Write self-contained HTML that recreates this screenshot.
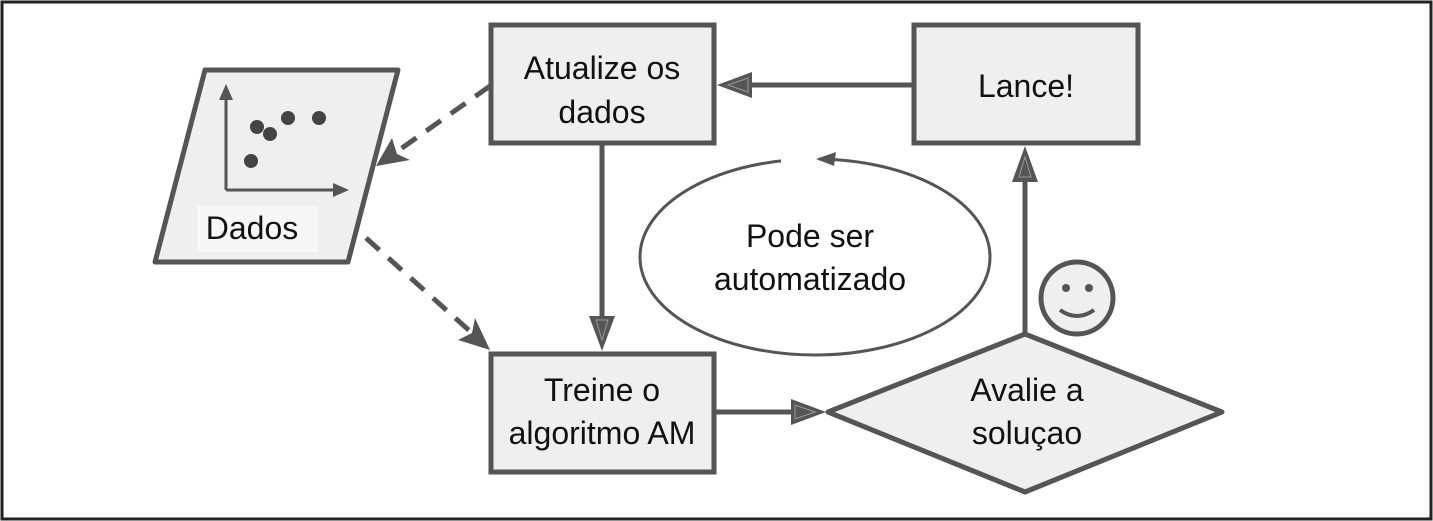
<!DOCTYPE html>
<html><head><meta charset="utf-8"><style>
html,body{margin:0;padding:0;background:#fff;}
svg{display:block;}
text{font-family:"Liberation Sans",sans-serif;font-size:32px;fill:#111;text-anchor:middle;}
</style></head><body>
<svg width="1433" height="521" viewBox="0 0 1433 521" xmlns="http://www.w3.org/2000/svg">
<rect x="2" y="2" width="1429" height="517" fill="#fff" stroke="#222" stroke-width="3"/>
<!-- parallelogram -->
<polygon points="205,70 398,70 348,262 155,262" fill="#efefef" stroke="#555" stroke-width="5" stroke-linejoin="round"/>
<line x1="226" y1="190" x2="226" y2="98" stroke="#555" stroke-width="3"/>
<polygon points="219,100 226,84 233,100" fill="#555"/>
<line x1="226" y1="190" x2="335" y2="190" stroke="#555" stroke-width="3"/>
<polygon points="333,183 349,190 333,197" fill="#555"/>
<circle cx="257" cy="127" r="7" fill="#444"/><circle cx="270" cy="134" r="7" fill="#444"/>
<circle cx="288" cy="118" r="7" fill="#444"/><circle cx="319" cy="118" r="7" fill="#444"/>
<circle cx="251" cy="161" r="7" fill="#444"/>
<rect x="197" y="206" width="121" height="46" fill="#f7f7f7"/>
<text x="252" y="239">Dados</text>
<!-- ellipse -->
<ellipse cx="815" cy="257" rx="175" ry="98" fill="#fff" stroke="#555" stroke-width="3"/>
<rect x="781" y="150" width="38" height="20" fill="#fff"/>
<polygon points="816,159 836,152 834,166" fill="#555"/>
<text x="810" y="247">Pode ser</text><text x="810" y="290">automatizado</text>
<!-- boxes -->
<rect x="491" y="25" width="223" height="118" fill="#efefef" stroke="#555" stroke-width="5"/>
<text x="602" y="79">Atualize os</text><text x="602" y="123">dados</text>
<rect x="914" y="25" width="224" height="118" fill="#efefef" stroke="#555" stroke-width="5"/>
<text x="1026" y="97">Lance!</text>
<rect x="491" y="354" width="223" height="118" fill="#efefef" stroke="#555" stroke-width="5"/>
<text x="602" y="401">Treine o</text><text x="602" y="444">algoritmo AM</text>
<!-- diamond -->
<polygon points="1025,334 1222,412 1025,492 828,412" fill="#efefef" stroke="#555" stroke-width="5" stroke-linejoin="round"/>
<text x="1027" y="401">Avalie a</text><text x="1027" y="444">soluçao</text>
<!-- smiley -->
<circle cx="1077" cy="298" r="36" fill="#efefef" stroke="#555" stroke-width="5"/>
<circle cx="1066" cy="288" r="4" fill="#555"/><circle cx="1089" cy="288" r="4" fill="#555"/>
<path d="M1060,310 Q1077,322 1094,310" fill="none" stroke="#555" stroke-width="4"/>
<!-- connectors -->
<line x1="914" y1="85" x2="745" y2="85" stroke="#555" stroke-width="5"/>
<polygon points="717,85 752,72 752,98" fill="#555"/>
<polygon points="728,85 748,78 748,92" fill="none" stroke="#999" stroke-width="1"/>
<line x1="602" y1="143" x2="602" y2="322" stroke="#555" stroke-width="5"/>
<polygon points="602,351 589,316 615,316" fill="#555"/>
<polygon points="602,340 596,320 608,320" fill="none" stroke="#999" stroke-width="1"/>
<line x1="714" y1="412" x2="796" y2="412" stroke="#555" stroke-width="5"/>
<polygon points="826,412 791,399 791,425" fill="#555"/>
<polygon points="815,412 795,405 795,419" fill="none" stroke="#999" stroke-width="1"/>
<line x1="1025" y1="334" x2="1025" y2="176" stroke="#555" stroke-width="5"/>
<polygon points="1025,146 1012,182 1038,182" fill="#555"/>
<polygon points="1025,157 1019,177 1031,177" fill="none" stroke="#999" stroke-width="1"/>
<line x1="490" y1="86" x2="392" y2="155" stroke="#555" stroke-width="5" stroke-dasharray="18,12"/>
<polygon points="376,166 392,138 397,154 410,160" fill="#555"/>
<line x1="366" y1="238" x2="472" y2="333" stroke="#555" stroke-width="5" stroke-dasharray="18,12"/>
<polygon points="490,350 458,340 472,333 475,318" fill="#555"/>
</svg>
</body></html>
